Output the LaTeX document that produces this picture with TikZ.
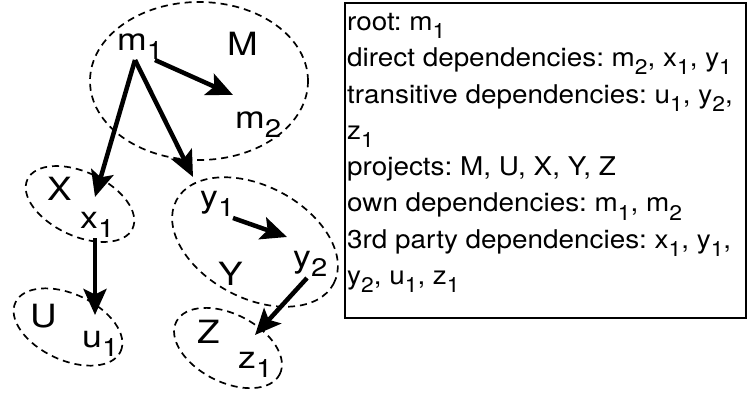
\documentclass[tikz,border=0pt]{standalone}
\usepackage{fontspec}
\setmainfont[FakeStretch=1.15]{TeX Gyre Heros}
\newfontfamily\boxfont[FakeStretch=1.08]{TeX Gyre Heros}
\usepackage{graphicx}
\usetikzlibrary{arrows.meta,shapes.geometric,calc}
\newcommand\lo[1]{\raisebox{-0.32em}{\scalebox{0.82}{#1}}}
\frenchspacing
\begin{document}
\begin{tikzpicture}[x=1pt,y=-1pt,
  proj/.style={draw, ellipse, dashed, dash pattern=on 7pt off 5pt, line width=1.7pt, inner sep=0pt},
  lbl/.style={anchor=base west, inner sep=0pt, font=\fontsize{31}{31}\selectfont},
  plbl/.style={anchor=base west, inner sep=0pt, font=\fontsize{32}{32}\selectfont},
  arr/.style={line width=4.5pt, -{Stealth[length=26pt,width=23pt,inset=5.5pt]}},
  infobox/.style={draw, line width=2pt, anchor=north west, inner sep=0pt, minimum width=401pt, minimum height=315pt},
  infotext/.style={anchor=north west, inner sep=0pt, align=left, font=\boxfont\fontsize{25.8}{36.3}\selectfont}]
\useasboundingbox (0,0) rectangle (747,408);
% project ellipses
\node[proj, minimum width=218pt, minimum height=158pt] (Me) at (199,81) {};
\node[proj, rotate=-25, minimum width=116pt, minimum height=64pt] (Xe) at (80,204) {};
\node[proj, rotate=-25, minimum width=116pt, minimum height=66pt] (Ue) at (68,327) {};
\node[proj, rotate=-28, minimum width=178pt, minimum height=112pt] (Ye) at (255,242) {};
\node[proj, rotate=-27, minimum width=116pt, minimum height=68pt] (Ze) at (228,348) {};
% project labels
\node[plbl] (M) at (227,55) {M};
\node[plbl] (X) at (47,200) {X};
\node[plbl] (U) at (30,327) {U};
\node[plbl] (Y) at (218,285) {Y};
\node[plbl] (Z) at (197,343) {Z};
% module labels
\node[lbl] (m1) at (117,50) {m\lo{1}};
\node[lbl] (m2) at (235,128) {m\lo{2}};
\node[lbl] (x1) at (80,228) {x\lo{1}};
\node[lbl] (u1) at (82,347) {u\lo{1}};
\node[lbl] (y1) at (200,207) {y\lo{1}};
\node[lbl] (y2) at (293,267) {y\lo{2}};
\node[lbl] (z1) at (238,368) {z\lo{1}};
% dependencies
\draw[arr] ($(m1.base west)+(38,10)$) -- ($(m2.base west)+(-2,-33)$);
\draw[arr] ($(m1.base west)+(18,10)$) -- ($(x1.base west)+(15,-31)$);
\draw[arr] ($(m1.base west)+(18,10)$) -- ($(y1.base west)+(-7,-30)$);
\draw[arr] ($(x1.base west)+(15,10)$) -- ($(u1.base west)+(13,-32)$);
\draw[arr] ($(y1.base west)+(33,11)$) -- ($(y2.base west)+(-6,-30)$);
\draw[arr] ($(y2.base west)+(14,11)$) -- ($(z1.base west)+(17,-33)$);
% info box
\node[infobox] (box) at (344,2) {};
\node[infotext] (info) at ($(box.north west)+(3,11)$) {root: m\lo{1}\\
direct dependencies: m\lo{2}, x\lo{1}, y\lo{1}\\
transitive dependencies: u\lo{1}, y\lo{2},\\
z\lo{1}\\
projects: M, U, X, Y, Z\\
own dependencies: m\lo{1}, m\lo{2}\\
3rd party dependencies: x\lo{1}, y\lo{1},\\
y\lo{2}, u\lo{1}, z\lo{1}};
\end{tikzpicture}
\end{document}
